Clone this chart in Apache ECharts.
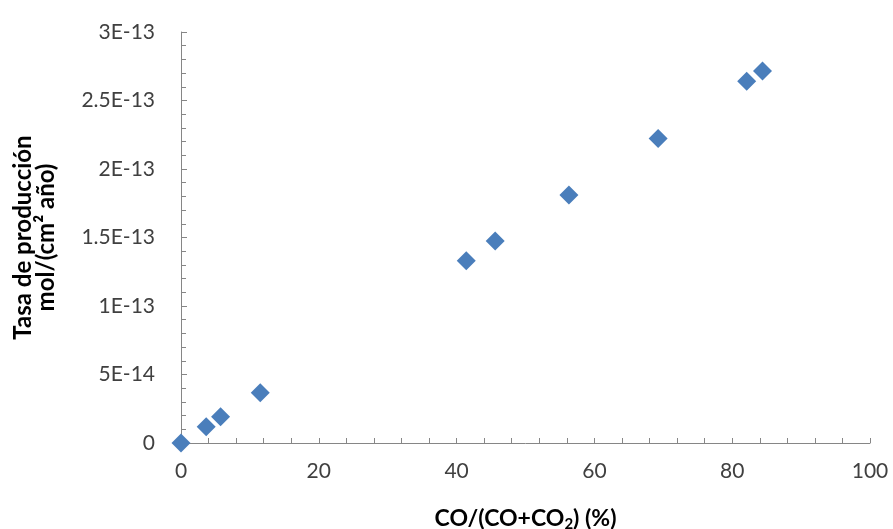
<!DOCTYPE html>
<html>
<head>
<meta charset="utf-8">
<script src="https://cdn.jsdelivr.net/npm/echarts@6/dist/echarts.min.js"></script>
<style>
  html, body { margin: 0; padding: 0; background: #fff; }
  #chart { width: 893px; height: 529px; }
</style>
</head>
<body>
<div id="chart"></div>
<script>
// CO/(CO+CO2) in %
const coFraction = [0, 3.66, 5.74, 11.5, 41.4, 45.6, 56.3, 69.25, 82.1, 84.4];
// production rate, mol/(cm2 año)
const prodRate = [0, 1.18e-14, 1.91e-14, 3.66e-14, 13.31e-14, 14.75e-14, 18.1e-14, 22.23e-14, 26.4e-14, 27.15e-14];

const xTicks = ['0', '20', '40', '60', '80', '100'];
const yTicks = ['0', '5E-14', '1E-13', '1.5E-13', '2E-13', '2.5E-13', '3E-13'];

const chart = echarts.init(document.getElementById('chart'));
const font = 'Lato, "Liberation Sans", sans-serif';
const axisGray = '#868686';

const option = {
  backgroundColor: '#fff',
  animation: false,
  grid: { left: 181, right: 23, top: 32, bottom: 86, outerBoundsMode: 'none' },
  xAxis: {
    type: 'value',
    min: 0,
    max: 100,
    interval: 20,
    name: 'CO/(CO+CO{sub|2}) (%)',
    nameLocation: 'middle',
    nameGap: 63,
    nameTextStyle: {
      fontFamily: font, fontWeight: 'bold', fontSize: 23, color: '#000',
      rich: {
        sub: { fontFamily: font, fontWeight: 'bold', fontSize: 15, color: '#000', padding: [11, 0, 0, 0] }
      }
    },
    splitLine: { show: false },
    axisLine: { show: true, onZero: false, lineStyle: { color: axisGray, width: 1 } },
    axisTick: { show: true, inside: true, length: 5, lineStyle: { color: axisGray } },
    minorTick: { show: true, splitNumber: 5, length: 5, lineStyle: { color: axisGray } },
    axisLabel: {
      margin: 18, fontFamily: font, fontSize: 21, color: '#404040',
      formatter: (v, i) => xTicks[i]
    }
  },
  yAxis: {
    type: 'value',
    min: 0,
    max: 3e-13,
    interval: 5e-14,
    name: 'Tasa de producción\nmol/(cm² año)',
    nameLocation: 'middle',
    nameRotate: 90,
    nameGap: 123,
    nameTextStyle: { fontFamily: font, fontWeight: 'bold', fontSize: 24, color: '#000', lineHeight: 23 },
    splitLine: { show: false },
    axisLine: { show: true, onZero: false, lineStyle: { color: axisGray, width: 1 } },
    axisTick: { show: true, inside: true, length: 6, lineStyle: { color: axisGray } },
    minorTick: { show: true, splitNumber: 5, length: 5, lineStyle: { color: axisGray } },
    axisLabel: {
      margin: 26, fontFamily: font, fontSize: 21, color: '#404040',
      formatter: (v, i) => yTicks[i]
    }
  },
  series: [{
    type: 'scatter',
    symbol: 'diamond',
    symbolSize: 19,
    itemStyle: { color: '#4A7EBB', opacity: 1 },
    data: coFraction.map((x, i) => [x, prodRate[i]])
  }]
};
chart.setOption(option);
</script>
</body>
</html>
